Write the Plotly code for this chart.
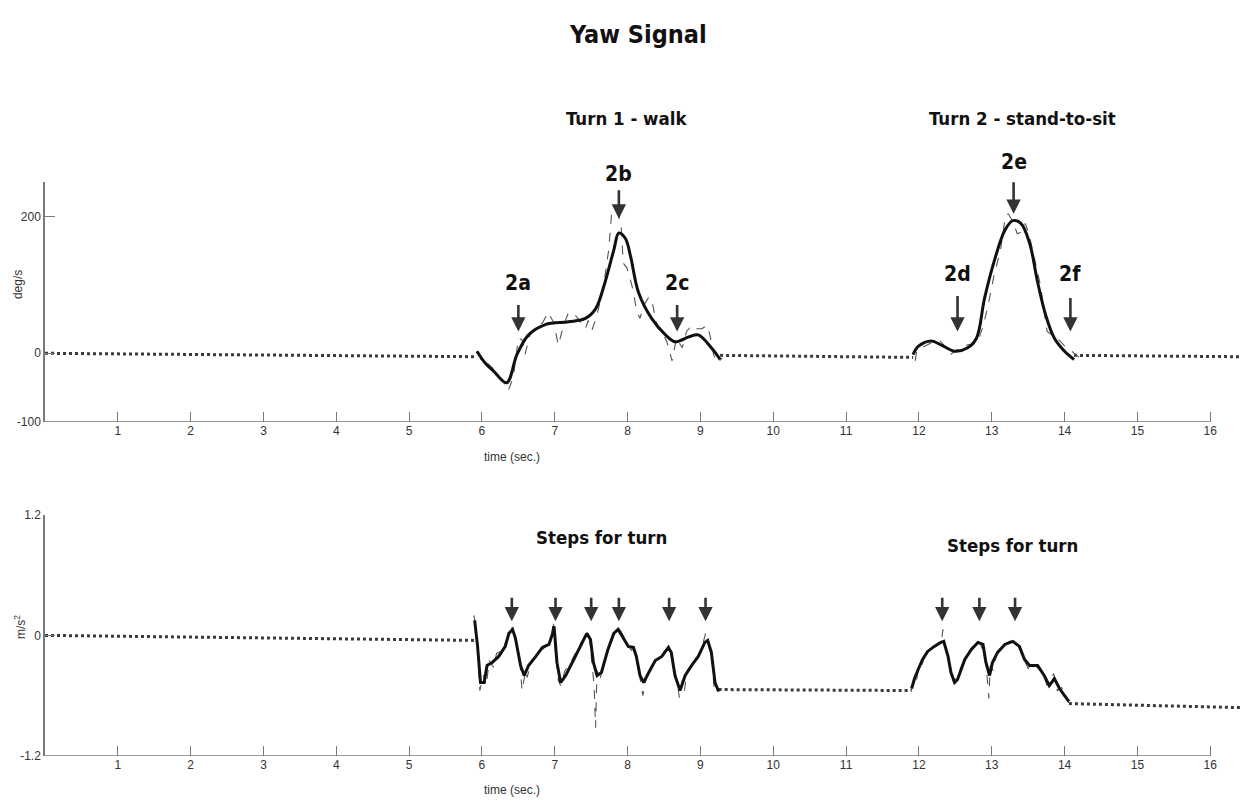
import plotly.graph_objects as go

# ---------------- data ----------------
# Top panel (yaw rate, deg/s)
base_top_x1 = [0.0, 5.93]
base_top_y1 = [0, -5]
base_top_x2 = [9.27, 11.92]
base_top_y2 = [-3, -6]
base_top_x3 = [14.13, 16.41]
base_top_y3 = [-3, -5]

turn1_smooth_x = [5.93, 6.05, 6.16, 6.34, 6.48, 6.64, 6.87, 7.19, 7.42, 7.56, 7.69, 7.81, 7.88,
                  7.97, 8.04, 8.15, 8.33, 8.52, 8.65, 8.84, 8.97, 9.15, 9.27]
turn1_smooth_y = [3, -15, -26, -43, -2, 27, 42, 46, 51, 65, 104, 151, 176,
                  168, 142, 89, 51, 27, 17, 24, 27, 8, -9]

turn1_raw_x = [5.95, 6.00, 6.07, 6.14, 6.23, 6.30, 6.36, 6.43, 6.50, 6.55, 6.59, 6.66, 6.75, 6.84,
               6.91, 6.98, 7.05, 7.12, 7.19, 7.28, 7.35, 7.42, 7.46, 7.51, 7.55, 7.60, 7.67, 7.74,
               7.78, 7.85, 7.91, 7.94, 7.99, 8.06, 8.13, 8.17, 8.22, 8.29, 8.33, 8.38, 8.42, 8.47,
               8.54, 8.61, 8.67, 8.75, 8.81, 8.88, 8.95, 9.02, 9.09, 9.13, 9.18, 9.23, 9.30]
turn1_raw_y = [3, -14, -14, -21, -35, -43, -55, -35, 22, 20, -2, 27, 36, 46,
               60, 46, 12, 41, 60, 56, 46, 36, 48, 34, 46, 65, 99, 151,
               204, 211, 190, 132, 125, 99, 60, 51, 70, 82, 80, 51, 36, 32,
               17, -11, 22, 8, 32, 41, 36, 36, 41, 27, -2, -14, -7]

turn2_smooth_x = [11.92, 11.99, 12.17, 12.31, 12.49, 12.67, 12.79, 12.90, 13.04, 13.18, 13.29,
                  13.40, 13.52, 13.63, 13.74, 13.86, 14.00, 14.13]
turn2_smooth_y = [-2, 10, 18, 12, 3, 8, 22, 80, 137, 180, 194,
                  190, 161, 104, 56, 22, 3, -9]

turn2_raw_x = [11.95, 11.97, 12.11, 12.20, 12.29, 12.34, 12.43, 12.52, 12.66, 12.80, 12.87, 12.94,
               13.03, 13.12, 13.19, 13.23, 13.30, 13.35, 13.42, 13.46, 13.51, 13.58, 13.67, 13.76,
               13.83, 13.90, 13.99, 14.08, 14.15, 14.22]
turn2_raw_y = [-11, 5, 12, 17, 18, 12, -2, 5, 12, 15, 36, 65,
               113, 151, 202, 204, 190, 175, 178, 190, 175, 142, 99, 32,
               27, 22, 12, 5, -2, -7]

# Bottom panel (acceleration, m/s^2)
base_bot_x1 = [0.0, 5.90]
base_bot_y1 = [0.0, -0.05]
base_bot_x2 = [9.25, 11.90]
base_bot_y2 = [-0.54, -0.55]
base_bot_x3 = [14.06, 16.41]
base_bot_y3 = [-0.68, -0.72]

steps1_x = [5.90, 5.94, 5.98, 6.03, 6.07, 6.14, 6.23, 6.32, 6.37, 6.42, 6.46, 6.53, 6.58, 6.64,
            6.74, 6.83, 6.92, 6.97, 6.99, 7.03, 7.08, 7.15, 7.24, 7.35, 7.44, 7.49, 7.53, 7.58,
            7.64, 7.73, 7.81, 7.87, 7.95, 8.01, 8.08, 8.12, 8.17, 8.22, 8.29, 8.38, 8.47, 8.56,
            8.60, 8.65, 8.72, 8.79, 8.88, 8.97, 9.06, 9.10, 9.15, 9.20, 9.25]
steps1_y = [0.15, -0.11, -0.47, -0.47, -0.30, -0.27, -0.21, -0.11, 0.02, 0.06, -0.03, -0.30, -0.40, -0.30,
            -0.21, -0.12, -0.09, 0.02, 0.09, -0.27, -0.47, -0.40, -0.27, -0.11, 0.02, -0.04, -0.27, -0.40,
            -0.37, -0.14, 0.02, 0.06, -0.03, -0.11, -0.12, -0.21, -0.40, -0.47, -0.37, -0.25, -0.21, -0.12,
            -0.17, -0.40, -0.55, -0.40, -0.30, -0.21, -0.07, -0.05, -0.17, -0.47, -0.56]

steps1_raw_x = [5.89, 5.92, 5.95, 5.97, 6.02, 6.06, 6.10, 6.16, 6.20, 6.28, 6.35, 6.41, 6.47, 6.52,
                6.55, 6.60, 6.62, 6.68, 6.78, 6.88, 6.95, 6.98, 7.01, 7.05, 7.08, 7.14, 7.20, 7.30,
                7.42, 7.47, 7.50, 7.54, 7.56, 7.58, 7.62, 7.66, 7.75, 7.84, 7.90, 7.97, 8.05, 8.10,
                8.14, 8.18, 8.21, 8.26, 8.35, 8.45, 8.52, 8.58, 8.63, 8.68, 8.71, 8.75, 8.78, 8.82,
                8.90, 9.00, 9.07, 9.11, 9.16, 9.19, 9.24]
steps1_raw_y = [0.20, 0.05, -0.30, -0.55, -0.40, -0.50, -0.25, -0.32, -0.18, -0.15, -0.02, 0.08, -0.05, -0.25,
                -0.55, -0.35, -0.42, -0.25, -0.18, -0.10, -0.05, 0.15, -0.20, -0.45, -0.50, -0.35, -0.30, -0.15,
                0.00, 0.02, -0.20, -0.50, -0.92, -0.35, -0.45, -0.30, -0.10, 0.05, 0.05, -0.05, -0.15, -0.12,
                -0.30, -0.50, -0.60, -0.40, -0.28, -0.20, -0.15, -0.10, -0.30, -0.45, -0.62, -0.45, -0.55, -0.35,
                -0.28, -0.18, 0.02, -0.10, -0.25, -0.55, -0.58]

steps2_x = [11.90, 11.94, 11.99, 12.05, 12.12, 12.21, 12.30, 12.34, 12.40, 12.44, 12.49, 12.53, 12.63,
            12.72, 12.81, 12.88, 12.92, 12.97, 13.01, 13.08, 13.18, 13.29, 13.38, 13.45, 13.52, 13.63,
            13.72, 13.79, 13.86, 13.93, 14.00, 14.06]
steps2_y = [-0.53, -0.43, -0.34, -0.24, -0.16, -0.11, -0.07, -0.06, -0.21, -0.37, -0.47, -0.44, -0.24,
            -0.14, -0.07, -0.09, -0.27, -0.40, -0.27, -0.17, -0.09, -0.06, -0.11, -0.24, -0.30, -0.30,
            -0.40, -0.50, -0.43, -0.53, -0.60, -0.66]

steps2_raw_x = [11.89, 11.93, 11.96, 12.00, 12.04, 12.08, 12.15, 12.25, 12.31, 12.33, 12.36, 12.42, 12.47,
                12.52, 12.60, 12.70, 12.79, 12.84, 12.90, 12.93, 12.96, 12.98, 13.02, 13.06, 13.15, 13.27,
                13.36, 13.43, 13.50, 13.56, 13.62, 13.70, 13.76, 13.80, 13.85, 13.90, 13.96, 14.02, 14.06]
steps2_raw_y = [-0.55, -0.45, -0.48, -0.30, -0.30, -0.20, -0.15, -0.10, -0.05, 0.06, -0.10, -0.30, -0.45,
                -0.42, -0.28, -0.15, -0.05, -0.08, -0.20, -0.35, -0.63, -0.30, -0.35, -0.20, -0.10, -0.05,
                -0.10, -0.22, -0.33, -0.27, -0.32, -0.38, -0.50, -0.45, -0.38, -0.55, -0.52, -0.63, -0.67]

x_ticks = list(range(1, 17))
top_yticks = [-100, 0, 200]
top_yticklabels = ["-100", "0", "200"]
bot_yticks = [-1.2, 0, 1.2]
bot_yticklabels = ["-1.2", "0", "1.2"]

# labels / arrows (x in seconds)
top_arrow_labels = ["2a", "2b", "2c", "2d", "2e", "2f"]
top_arrow_x = [6.50, 7.88, 8.68, 12.53, 13.30, 14.08]
top_arrow_tip = [32, 197, 32, 32, 204, 32]
top_arrow_len = [28, 30, 28, 37, 33, 35]
top_label_py = [281, 170, 281, 272, 158, 272]
bot_arrow_x = [6.41, 7.01, 7.50, 7.88, 8.57, 9.07, 12.32, 12.83, 13.32]
bot_arrow_tip = [0.14] * 9

# ---------------- figure ----------------
W, H = 1249, 805
ML, MR = 45, 6
PW = W - ML - MR
X_MAX = 16.45
PX_PER_S = PW / X_MAX


def py2paper(py):
    return (H - py) / H


def px2paper(px):
    return (px - ML) / PW


DOT = dict(color="#3a3a3a", width=3, dash="dot")
SOLID = dict(color="#111111", width=3)
RAW = dict(color="#555555", width=1.1, dash="dash")

fig = go.Figure()


def add(x, y, line, xa="x", ya="y", shape="linear"):
    fig.add_trace(go.Scatter(x=x, y=y, mode="lines", line=dict(**line, shape=shape),
                             xaxis=xa, yaxis=ya, showlegend=False, hoverinfo="skip"))


for bx, by in [(base_top_x1, base_top_y1), (base_top_x2, base_top_y2), (base_top_x3, base_top_y3)]:
    add(bx, by, DOT)
add(turn1_raw_x, turn1_raw_y, RAW)
add(turn2_raw_x, turn2_raw_y, RAW)
add(turn1_smooth_x, turn1_smooth_y, SOLID, shape="spline")
add(turn2_smooth_x, turn2_smooth_y, SOLID, shape="spline")

for bx, by in [(base_bot_x1, base_bot_y1), (base_bot_x2, base_bot_y2), (base_bot_x3, base_bot_y3)]:
    add(bx, by, DOT, "x2", "y2")
add(steps1_raw_x, steps1_raw_y, RAW, "x2", "y2")
add(steps2_raw_x, steps2_raw_y, RAW, "x2", "y2")
add(steps1_x, steps1_y, SOLID, "x2", "y2")
add(steps2_x, steps2_y, SOLID, "x2", "y2")

AX_COLOR = "#7a7a7a"
TICK_FONT = dict(family="Liberation Sans, Arial, sans-serif", size=12, color="#333333")

xcommon = dict(range=[0, X_MAX], tickvals=x_ticks, ticks="inside", ticklen=10, tickwidth=1.3,
               tickcolor=AX_COLOR, showline=False, showgrid=False, zeroline=False,
               tickfont=TICK_FONT, domain=[0, 1], fixedrange=True)
ycommon = dict(ticks="inside", ticklen=10, tickwidth=1.3, tickcolor=AX_COLOR, showline=True,
               linecolor=AX_COLOR, linewidth=1.5, showgrid=False, zeroline=False,
               tickfont=TICK_FONT, fixedrange=True)

fig.update_layout(
    width=W, height=H,
    margin=dict(l=ML, r=MR, t=0, b=0, pad=0),
    paper_bgcolor="white", plot_bgcolor="white",
    xaxis=dict(**xcommon, anchor="y"),
    yaxis=dict(**ycommon, range=[-100, 250], tickvals=top_yticks, ticktext=top_yticklabels,
               domain=[py2paper(422), py2paper(178.5)], anchor="x"),
    xaxis2=dict(**xcommon, anchor="y2"),
    yaxis2=dict(**ycommon, range=[-1.2, 1.2], tickvals=bot_yticks, ticktext=bot_yticklabels,
                domain=[py2paper(762), py2paper(517)], anchor="x2"),
)

# bottom axis lines that stop at 16 s
fig.add_shape(type="line", xref="x", yref="y", x0=0, x1=16, y0=-100, y1=-100,
              line=dict(color=AX_COLOR, width=1.5))
fig.add_shape(type="line", xref="x2", yref="y2", x0=0, x1=16, y0=-1.2, y1=-1.2,
              line=dict(color=AX_COLOR, width=1.5))

BOLD = "Liberation Sans Narrow, DejaVu Sans Condensed, Arial Narrow, sans-serif"
ann = []


def text(t, px, py, size, family=BOLD, color="#111111", angle=0):
    ann.append(dict(text=t, xref="paper", yref="paper", x=px2paper(px), y=py2paper(py),
                    xanchor="center", yanchor="middle", showarrow=False, textangle=angle,
                    font=dict(family=family, size=size, color=color)))


text("<b>Yaw Signal</b>", 638, 28, 25)
text("<b>Turn 1 - walk</b>", 626, 113, 18.5)
text("<b>Turn 2 - stand-to-sit</b>", 1022, 113, 18.5)
text("<b>Steps for turn</b>", 601, 540, 18.5)
text("<b>Steps for turn</b>", 1012, 548, 18.5)
text("time (sec.)", 512, 458, 12, family=TICK_FONT["family"], color="#333333")
text("time (sec.)", 512, 797, 12, family=TICK_FONT["family"], color="#333333")
text("deg/s", 18, 283, 12, family=TICK_FONT["family"], color="#333333", angle=-90)
text("m/s<sup>2</sup>", 20, 631, 12, family=TICK_FONT["family"], color="#333333", angle=-90)

for lab, xa, pyl in zip(top_arrow_labels, top_arrow_x, top_label_py):
    text("<b>" + lab + "</b>", ML + xa * PX_PER_S, pyl, 21)

ARROW = dict(showarrow=True, arrowhead=2, arrowsize=1.1, arrowwidth=2.6, arrowcolor="#333333",
             text="", axref="pixel", ayref="pixel", ax=0)
for xa, tip, ln in zip(top_arrow_x, top_arrow_tip, top_arrow_len):
    ann.append(dict(**ARROW, x=xa, y=tip, xref="x", yref="y", ay=-ln))
for xa, tip in zip(bot_arrow_x, bot_arrow_tip):
    ann.append(dict(**ARROW, x=xa, y=tip, xref="x2", yref="y2", ay=-25))

fig.update_layout(annotations=ann)

fig.write_html("out.html", config={"displayModeBar": False},
               post_script="document.body.style.margin='0';")
